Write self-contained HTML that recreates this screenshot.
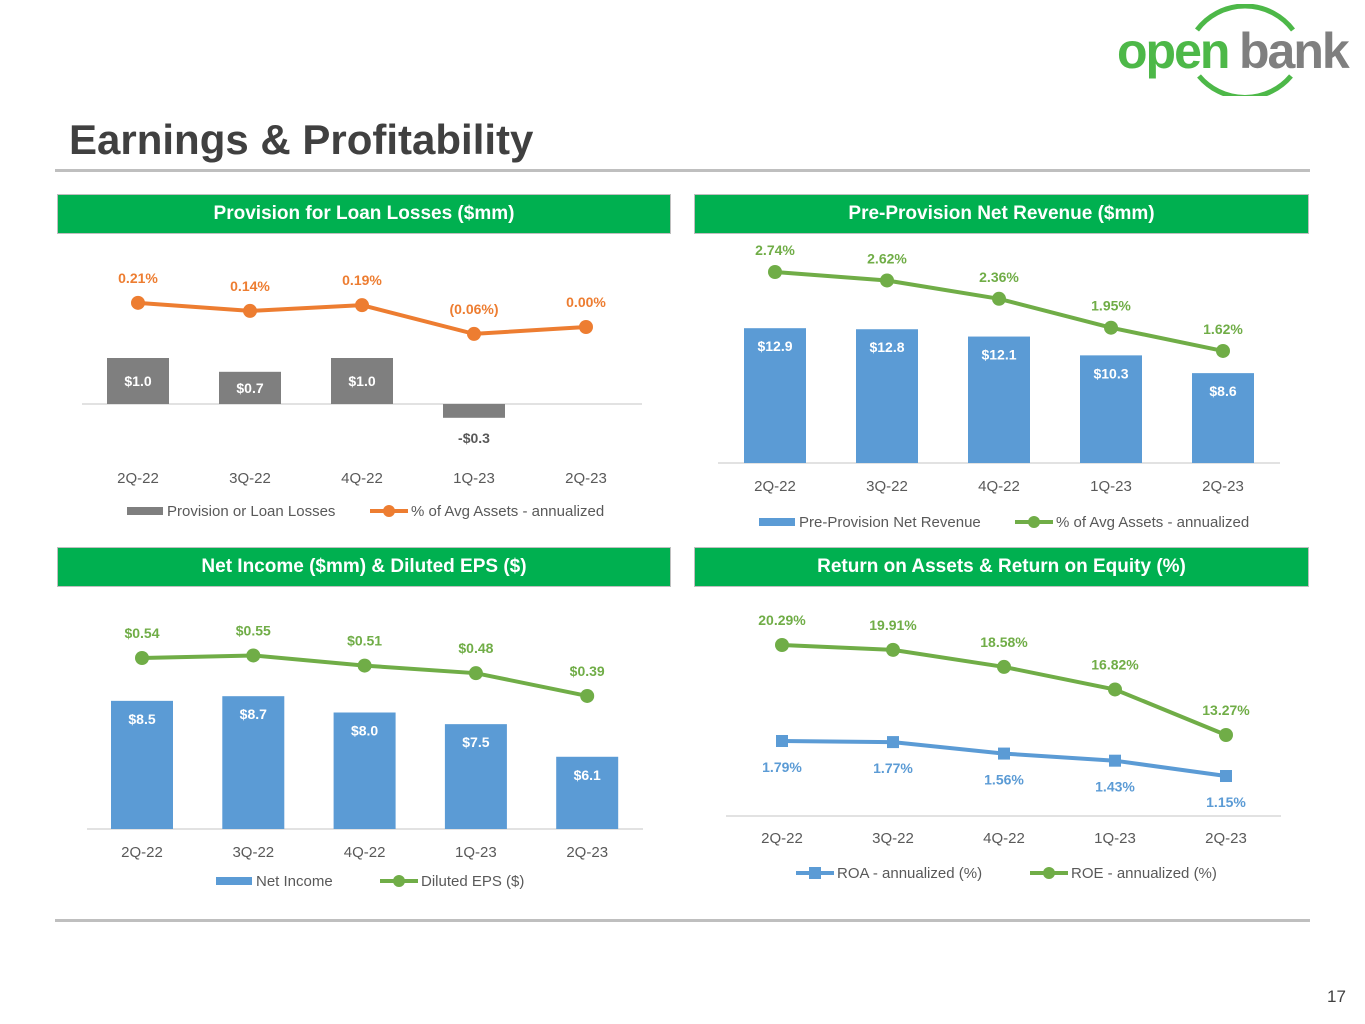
<!DOCTYPE html>
<html><head><meta charset="utf-8"><style>
body{margin:0;background:#fff;font-family:"Liberation Sans",sans-serif;}
#root{position:relative;width:1365px;height:1024px;overflow:hidden;}
.hdr{position:absolute;height:38px;background:#00B050;border:1px solid #bfbfbf;color:#fff;font-weight:bold;font-size:19px;text-align:center;line-height:38px;}
</style></head><body><div id="root">
<div style="position:absolute;left:69px;top:116px;font-size:42px;font-weight:bold;color:#404040;">Earnings &amp; Profitability</div>
<div style="position:absolute;left:55px;top:169px;width:1255px;height:3px;background:#bfbfbf"></div>
<div style="position:absolute;left:55px;top:919px;width:1255px;height:3px;background:#bfbfbf"></div>
<div style="position:absolute;left:1327px;top:987px;font-size:17px;color:#404040">17</div>
<div style="position:absolute;left:1115px;top:4px;width:250px;height:92px;">
<svg width="250" height="92"><path d="M82,26 A60,60 0 0 1 178,26" fill="none" stroke="#4DB848" stroke-width="5"/><path d="M84,72 A60,60 0 0 0 176,72" fill="none" stroke="#4DB848" stroke-width="5"/>
<text x="2" y="64" font-size="50" font-weight="bold" fill="#4DB848" font-family="Liberation Sans" letter-spacing="-2">open</text>
<text x="124" y="64" font-size="50" font-weight="bold" fill="#7f7f7f" font-family="Liberation Sans" letter-spacing="-2">bank</text></svg></div>
<div class="hdr" style="left:57px;top:194px;width:612px">Provision for Loan Losses ($mm)</div>
<div class="hdr" style="left:694px;top:194px;width:613px">Pre-Provision Net Revenue ($mm)</div>
<div class="hdr" style="left:57px;top:547px;width:612px">Net Income ($mm) &amp; Diluted EPS ($)</div>
<div class="hdr" style="left:694px;top:547px;width:613px">Return on Assets &amp; Return on Equity (%)</div>
<svg id="chart" width="1365" height="1024" style="position:absolute;left:0;top:0"></svg>
</div>
<script>
const categories=["2Q-22","3Q-22","4Q-22","1Q-23","2Q-23"];
const provisionValues=[1.0,0.7,1.0,-0.3,0];
const provisionLabels=["$1.0","$0.7","$1.0","-$0.3",""];
const provisionPct=[0.21,0.14,0.19,-0.06,0.00];
const provisionPctLabels=["0.21%","0.14%","0.19%","(0.06%)","0.00%"];
const ppnrValues=[12.9,12.8,12.1,10.3,8.6];
const ppnrLabels=["$12.9","$12.8","$12.1","$10.3","$8.6"];
const ppnrPct=[2.74,2.62,2.36,1.95,1.62];
const ppnrPctLabels=["2.74%","2.62%","2.36%","1.95%","1.62%"];
const netIncome=[8.5,8.7,8.0,7.5,6.1];
const netIncomeLabels=["$8.5","$8.7","$8.0","$7.5","$6.1"];
const eps=[0.54,0.55,0.51,0.48,0.39];
const epsLabels=["$0.54","$0.55","$0.51","$0.48","$0.39"];
const roa=[1.79,1.77,1.56,1.43,1.15];
const roaLabels=["1.79%","1.77%","1.56%","1.43%","1.15%"];
const roe=[20.29,19.91,18.58,16.82,13.27];
const roeLabels=["20.29%","19.91%","18.58%","16.82%","13.27%"];

const svg=document.getElementById('chart');
const NS="http://www.w3.org/2000/svg";
function mk(tag,attrs,parent){const e=document.createElementNS(NS,tag);for(const k in attrs)e.setAttribute(k,attrs[k]);(parent||svg).appendChild(e);return e;}
function txt(x,y,s,size,fill,weight,parent){const t=mk('text',{x:x,y:y,'text-anchor':'middle','font-size':size,fill:fill,'font-weight':weight||'normal','font-family':'Liberation Sans, sans-serif'},parent);t.textContent=s;return t;}

function chart(o){
  const g=mk('g',{});
  
  
  const xs=i=>o.x0+i*o.dx;
  mk('line',{x1:o.ax1,x2:o.ax2,y1:o.base,y2:o.base,stroke:'#d9d9d9','stroke-width':1.5},g);
  if(o.bars){o.bars.forEach((v,i)=>{
    const y=o.by(v),y0=o.by(o.bmin||0);
    const r=mk('rect',{x:xs(i)-31,y:Math.min(y,y0),width:62,height:Math.abs(y0-y),fill:o.bcol},g);
    
    
    if(v>=0){const ly=o.center?(y+y0)/2+5:Math.min(y,y0)+23;txt(xs(i),ly,o.blabels[i],14,'#fff','bold',g);}
    else txt(xs(i),y+25,o.blabels[i],14,'#595959','bold',g);
  });}
  o.lines.forEach(L=>{
    const pts=L.vals.map((v,i)=>[xs(i),L.y(v)]);
    const p=mk('polyline',{points:pts.map(p=>p.join(',')).join(' '),fill:'none',stroke:L.col,'stroke-width':4},g);
    
    
    pts.forEach((q,i)=>{
      let m;
      if(L.square)m=mk('rect',{x:q[0]-6,y:q[1]-6,width:12,height:12,fill:L.col},g);
      else m=mk('circle',{cx:q[0],cy:q[1],r:7,fill:L.col},g);
      
      
      txt(q[0],q[1]+L.off,L.labels[i],14,L.col,'bold',g);
    });
  });
  categories.forEach((c,i)=>txt(xs(i),o.cy,c,15,'#595959','normal',g));
  o.legend.forEach(l=>{
    if(l.bar)mk('rect',{x:l.x,y:o.ly-9,width:36,height:8,fill:l.col},g);
    else{mk('line',{x1:l.x,x2:l.x+38,y1:o.ly-5,y2:o.ly-5,stroke:l.col,'stroke-width':4},g);
      if(l.square)mk('rect',{x:l.x+13,y:o.ly-11,width:12,height:12,fill:l.col},g);else mk('circle',{cx:l.x+19,cy:o.ly-5,r:6,fill:l.col},g);}
    const t=txt(l.x+(l.bar?40:41),o.ly,l.t,15,'#595959','normal',g);t.setAttribute('text-anchor','start');
    
    
  });
}
chart({name:'provision-chart',x0:138,dx:112,base:404,ax1:82,ax2:642,cy:483,ly:516,center:1,
  bars:provisionValues,blabels:provisionLabels,bcol:'#7f7f7f',by:v=>404-v*46,
  lines:[{name:'provision-pct-line',vals:provisionPct,labels:provisionPctLabels,col:'#ED7D31',y:v=>327-v*115,off:-20}],
  legend:[{x:127,t:'Provision or Loan Losses',col:'#7f7f7f',bar:1},{x:370,t:'% of Avg Assets - annualized',col:'#ED7D31'}]});
chart({name:'ppnr-chart',x0:775,dx:112,base:463,ax1:718,ax2:1280,cy:491,ly:527,
  bars:ppnrValues,blabels:ppnrLabels,bcol:'#5B9BD5',by:v=>463-v*10.45,
  lines:[{name:'ppnr-pct-line',vals:ppnrPct,labels:ppnrPctLabels,col:'#70AD47',y:v=>272-(v-2.74)*70.5,off:-17}],
  legend:[{x:759,t:'Pre-Provision Net Revenue',col:'#5B9BD5',bar:1},{x:1015,t:'% of Avg Assets - annualized',col:'#70AD47'}]});
chart({name:'net-income-chart',x0:142,dx:111.3,base:829,ax1:87,ax2:643,cy:857,ly:886,
  bars:netIncome,blabels:netIncomeLabels,bcol:'#5B9BD5',by:v=>829-(v-3)*23.3,bmin:3,
  lines:[{name:'eps-line',vals:eps,labels:epsLabels,col:'#70AD47',y:v=>658-(v-0.54)*253,off:-20}],
  legend:[{x:216,t:'Net Income',col:'#5B9BD5',bar:1},{x:380,t:'Diluted EPS ($)',col:'#70AD47'}]});
chart({name:'roa-roe-chart',x0:782,dx:111,base:816,ax1:726,ax2:1281,cy:843,ly:878,
  lines:[{name:'roe-line',vals:roe,labels:roeLabels,col:'#70AD47',y:v=>645-(v-20.29)*12.82,off:-20},
         {name:'roa-line',vals:roa,labels:roaLabels,col:'#5B9BD5',y:v=>741+(1.79-v)*54.7,square:1,off:31}],
  legend:[{x:796,t:'ROA - annualized (%)',col:'#5B9BD5',square:1},{x:1030,t:'ROE - annualized (%)',col:'#70AD47'}]});
</script></body></html>
